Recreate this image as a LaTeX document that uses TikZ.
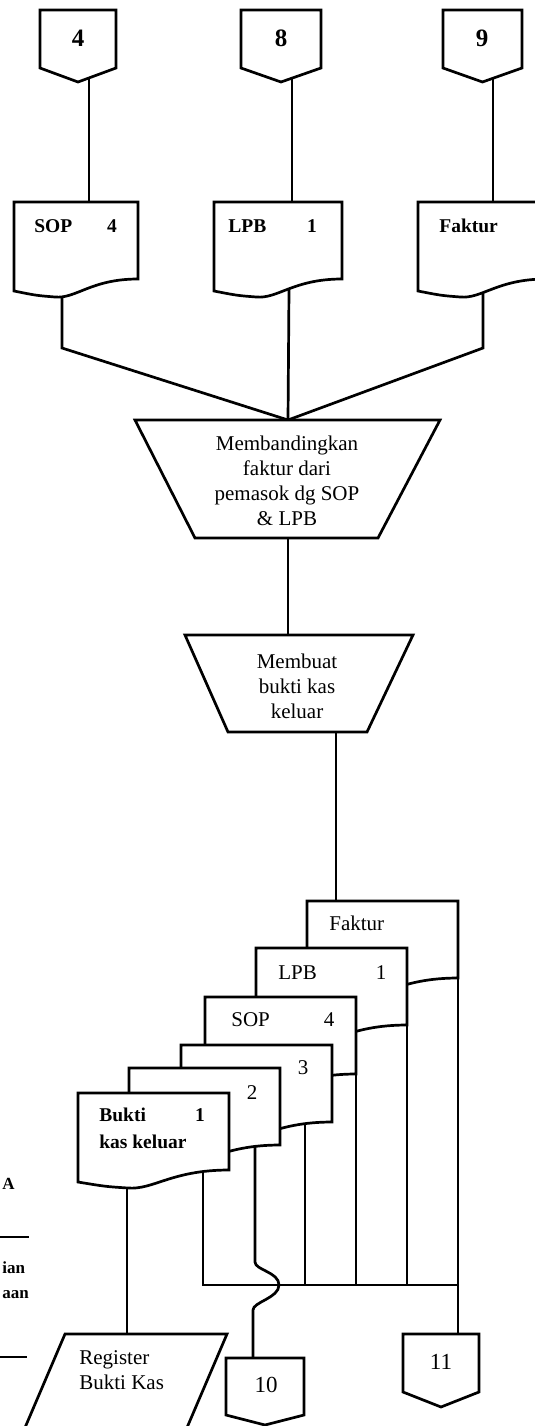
\documentclass[tikz,border=0pt]{standalone}
\usepackage{fontspec}
\setmainfont{Liberation Serif}
\usetikzlibrary{calc}
\newcommand\docshape[3]{\draw[shp] (#1,#2) -- ({#1+#3},#2) -- ({#1+#3},{#2+77}) .. controls ({#1+0.62*#3},{#2+77}) and ({#1+0.5*#3},{#2+97}) .. ({#1+0.33*#3},{#2+95}) .. controls ({#1+0.18*#3},{#2+93.5}) .. (#1,{#2+89}) -- cycle;}
\newcommand\offpg[5]{\draw[shp] (#1,#3) -- (#2,#3) -- (#2,#4) -- ({(#1+#2)/2},#5) -- (#1,#4) -- cycle;}
\begin{document}
\begin{tikzpicture}[x=1pt,y=-1pt,line width=2.7pt,line join=miter,
 shp/.style={draw,fill=white,line join=miter},
 rt/.style={inner sep=0pt,font=\fontsize{21}{25}\selectfont,align=center},
 bt/.style={inner sep=0pt,font=\fontsize{19.5}{24}\selectfont\bfseries},
 ct/.style={inner sep=0pt,font=\fontsize{25}{28}\selectfont\bfseries},
 nt/.style={inner sep=0pt,font=\fontsize{23}{28}\selectfont},
 mt/.style={inner sep=0pt,font=\fontsize{17}{20}\selectfont\bfseries}]
\useasboundingbox (0,0) rectangle (535,1426);
\clip (0,0) rectangle (535,1426);

% ---------- named coordinates ----------
\coordinate (c4a) at (89,75);   \coordinate (sopT) at (89,205);
\coordinate (c8a) at (292,75);  \coordinate (lpbT) at (292,205);
\coordinate (c9a) at (493,75);  \coordinate (fakT) at (493,205);
\coordinate (sopB) at (62,290); \coordinate (sopK) at (62,348);
\coordinate (lpbB) at (289,290);
\coordinate (fakB) at (483,290); \coordinate (fakK) at (483,348);
\coordinate (j1) at (288,420);
\coordinate (t1b) at (288,538); \coordinate (t2t) at (288,635);
\coordinate (t2b) at (336,732); \coordinate (sfT) at (336,905);
\coordinate (bkB) at (203,1165); \coordinate (bus0) at (203,1285);
\coordinate (c2B) at (255,1140); \coordinate (hop0) at (255,1262);
\coordinate (hopM) at (279,1285); \coordinate (hop1) at (253,1310);
\coordinate (c10T) at (253,1362);
\coordinate (c3B) at (305,1118); \coordinate (c3K) at (305,1285);
\coordinate (ssB) at (356,1060); \coordinate (ssK) at (356,1285);
\coordinate (slB) at (407,1015); \coordinate (slK) at (407,1285);
\coordinate (sfB) at (458,965);  \coordinate (bus1) at (458,1285);
\coordinate (c11T) at (458,1338);
\coordinate (bkL) at (127,1180); \coordinate (regT) at (127,1334);

% ---------- connectors (drawn first, shapes cover ends) ----------
\draw (c4a) -- (sopT);
\draw (c8a) -- (lpbT);
\draw (c9a) -- (fakT);
\draw (sopB) -- (sopK) -- (j1);
\draw (lpbB) -- (j1);
\draw (fakB) -- (fakK) -- (j1);
\draw (t1b) -- (t2t);
\draw (t2b) -- (sfT);
\draw (bkB) -- (bus0) -- (bus1);
\draw (c3B) -- (c3K);
\draw (ssB) -- (ssK);
\draw (slB) -- (slK);
\draw (sfB) -- (bus1) -- (c11T);
\draw (c2B) -- (hop0) .. controls +(0,8) and +(0,-13) .. (hopM) .. controls +(0,13) and +(0,-8) .. (hop1) -- (c10T);
\draw (bkL) -- (regT);

% ---------- top off-page connectors ----------
\offpg{40}{116}{10}{68}{82}
\offpg{241}{321}{10}{68}{82}
\offpg{443}{522}{10}{68}{82}

% ---------- top documents ----------
\docshape{14}{202}{124}
\docshape{214}{202}{128}
\docshape{418}{202}{128}

% ---------- processes ----------
\draw[shp] (135,420) -- (440,420) -- (378,538) -- (195,538) -- cycle;
\draw[shp] (185,635) -- (413,635) -- (367,732) -- (228,732) -- cycle;

% ---------- document stack (back to front) ----------
\docshape{307}{901}{151}
\docshape{256}{948}{151}
\docshape{205}{997}{151}
\docshape{181}{1045}{151}
\docshape{129}{1068}{151}
\docshape{78}{1093}{151}

% ---------- bottom shapes ----------
\offpg{226}{304}{1358}{1415}{1425}
\offpg{403}{479}{1334}{1392}{1407}
\draw[shp] (65,1334) -- (227,1334) -- (180,1444) -- (18,1444) -- cycle;

% ---------- left margin fragments ----------
\draw (0,1237) -- (29,1237);
\draw (0,1357) -- (27,1357);

% ---------- texts ----------
\node[ct] (n4) at (78,38) {4};
\node[ct] (n8) at (281,38) {8};
\node[ct] (n9) at (482,38) {9};
\node[bt,anchor=west] (tsop) at (33,226) {SOP};
\node[bt] (tsop4) at (112,226) {4};
\node[bt,anchor=west] (tlpb) at (227,226) {LPB};
\node[bt] (tlpb1) at (312,226) {1};
\node[bt,anchor=west] (tfak) at (438,226) {Faktur};
\node[rt] (t1) at (287,481) {Membandingkan\\faktur dari\\pemasok dg SOP\\\& LPB};
\node[rt] (t2) at (297,686) {Membuat\\bukti kas\\keluar};
\node[rt,anchor=west] (sfak) at (328,923) {Faktur};
\node[rt,anchor=west] (slpb) at (277,973) {LPB};
\node[rt] (slpb1) at (381,973) {1};
\node[rt,anchor=west] (ssop) at (230,1020) {SOP};
\node[rt] (ssop4) at (329,1020) {4};
\node[rt] (s3) at (303,1068) {3};
\node[rt] (s2) at (252,1093) {2};
\node[bt,anchor=west] (sbk) at (98,1115) {Bukti};
\node[bt] (sbk1) at (200,1115) {1};
\node[bt,anchor=west] (sbk2) at (98,1142) {kas keluar};
\node[rt,anchor=west,align=left] (treg) at (78,1370) {Register\\Bukti Kas};
\node[nt] (n10) at (266,1385) {10};
\node[nt] (n11) at (441,1362) {11};
\node[mt,anchor=west] (la) at (1,1184) {A};
\node[mt,anchor=west] (lian) at (1,1268) {ian};
\node[mt,anchor=west] (laan) at (1,1295) {aan};
\end{tikzpicture}
\end{document}
